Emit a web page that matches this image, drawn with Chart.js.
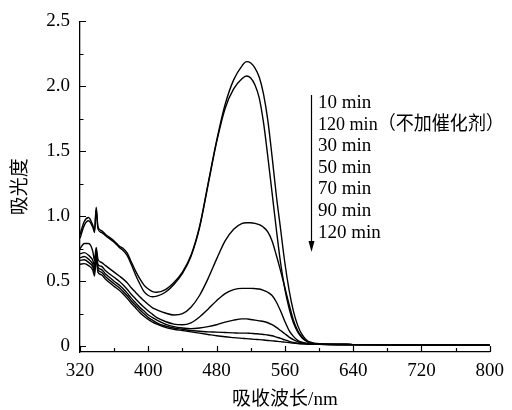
<!DOCTYPE html>
<html><head><meta charset="utf-8">
<script src="https://cdn.jsdelivr.net/npm/chart.js@4/dist/chart.umd.min.js"></script>
<style>html,body{margin:0;padding:0;background:#fff}</style>
</head><body>
<canvas id="c" width="512" height="410"></canvas>
<script>
// ---- data ----
const wavelengths = [320,325,330,335,337,339,341,345,350,360,366,370,375,380,385,390,395,400,405,410,420,430,440,450,460,470,480,490,500,510,515,520,525,530,535,540,545,550,555,560,565,570,575,580,585,590,600,640,700,800];
const seriesNames = ["10 min","120 min（不加催化剂）","30 min","50 min","70 min","90 min","120 min"];
const abs10min = [0.86,0.96,0.99,0.93,0.89,1.07,0.92,0.89,0.86, 0.81,0.77,0.755,0.72,0.65,0.58,0.52,0.47,0.44, 0.42,0.415,0.435,0.49,0.57,0.70,0.92,1.25,1.58,1.86, 2.05,2.16,2.19,2.18,2.14,2.07,1.94,1.74,1.46,1.16, 0.90,0.64,0.43,0.27,0.16,0.09,0.05,0.03,0.018,0.012, 0.01,0.008];
const abs120NoCat = [0.83,0.93,0.965,0.915,0.875,1.05,0.905,0.875,0.85, 0.80,0.76,0.74,0.70,0.63,0.55,0.48,0.42,0.39, 0.38,0.385,0.415,0.475,0.56,0.69,0.91,1.24,1.57,1.83, 1.98,2.06,2.08,2.065,2.01,1.91,1.72,1.46,1.18,0.90, 0.64,0.44,0.29,0.18,0.11,0.065,0.04,0.025,0.016,0.012, 0.01,0.008];
const abs30min = [0.75,0.79,0.79,0.73,0.66,0.76,0.67,0.645,0.62, 0.57,0.54,0.52,0.49,0.45,0.415,0.38,0.35,0.32, 0.295,0.28,0.255,0.24,0.25,0.30,0.39,0.52,0.67,0.81, 0.90,0.945,0.95,0.95,0.945,0.935,0.915,0.88,0.81,0.70, 0.58,0.45,0.32,0.20,0.12,0.07,0.04,0.025,0.016,0.012, 0.01,0.008];
const abs50min = [0.71,0.72,0.70,0.66,0.62,0.74,0.63,0.615,0.58, 0.53,0.50,0.475,0.44,0.40,0.365,0.33,0.30,0.27, 0.245,0.22,0.19,0.17,0.165,0.18,0.225,0.285,0.35,0.405, 0.435,0.445,0.445,0.445,0.443,0.44,0.43,0.415,0.39,0.34, 0.27,0.19,0.12,0.075,0.045,0.03,0.022,0.018,0.015,0.012, 0.01,0.008];
const abs70min = [0.68,0.69,0.67,0.63,0.59,0.72,0.61,0.59,0.555, 0.50,0.47,0.445,0.41,0.37,0.335,0.30,0.27,0.24, 0.22,0.20,0.17,0.15,0.14,0.135,0.14,0.15,0.165,0.185, 0.20,0.21,0.21,0.205,0.20,0.195,0.19,0.18,0.165,0.145, 0.12,0.095,0.07,0.05,0.035,0.027,0.021,0.018,0.015,0.012, 0.01,0.008];
const abs90min = [0.66,0.665,0.645,0.61,0.57,0.70,0.59,0.57,0.535, 0.48,0.45,0.425,0.39,0.35,0.315,0.28,0.25,0.22, 0.20,0.18,0.155,0.14,0.13,0.12,0.115,0.11,0.108,0.105, 0.102,0.10,0.10,0.098,0.096,0.094,0.09,0.086,0.08,0.07, 0.06,0.048,0.037,0.028,0.022,0.019,0.017,0.015,0.014,0.012, 0.01,0.008];
const abs120min = [0.63,0.635,0.62,0.585,0.54,0.68,0.57,0.55,0.515, 0.46,0.43,0.405,0.37,0.33,0.295,0.26,0.23,0.205, 0.185,0.17,0.145,0.13,0.12,0.11,0.10,0.09,0.08,0.072, 0.066,0.06,0.058,0.055,0.052,0.05,0.047,0.044,0.041,0.038, 0.035,0.031,0.027,0.023,0.02,0.018,0.016,0.015,0.014,0.012, 0.01,0.008];
const xMajorTicks = [320,400,480,560,640,720,800];
const xMinorTicks = [360,440,520,600,680,760];
const xTickLabels = ["320","400","480","560","640","720","800"];
const yMajorTicks = [0,0.5,1.0,1.5,2.0,2.5];
const yMinorTicks = [0.25,0.75,1.25,1.75,2.25];
const yTickLabels = ["0","0.5","1.0","1.5","2.0","2.5"];
const xTitle = "吸收波长/nm";
const yTitle = "吸光度";

// ---- chart ----
const FONT_FAMILY = "'Liberation Serif','Noto Sans CJK SC',serif";
const seriesValues = [abs10min, abs120NoCat, abs30min, abs50min, abs70min, abs90min, abs120min];
const datasets = seriesValues.map((arr, i) => ({
  label: seriesNames[i],
  data: arr.map((v, j) => ({x: wavelengths[j], y: v})),
  borderColor: '#000', borderWidth: 1.4, pointRadius: 0,
  cubicInterpolationMode: 'monotone', fill: false
}));

const innerTicks = {
  id: 'innerTicks',
  afterDatasetsDraw(chart) {
    const {ctx, scales: {x, y}, chartArea: a} = chart;
    ctx.save();
    ctx.strokeStyle = '#000'; ctx.lineWidth = 1.2;
    ctx.beginPath();
    const yt = (v, len) => { const p = Math.round(y.getPixelForValue(v)) + 0.5; ctx.moveTo(a.left, p); ctx.lineTo(a.left + len, p); };
    const xt = (v, len) => { const p = Math.round(x.getPixelForValue(v)) + 0.5; ctx.moveTo(p, a.bottom); ctx.lineTo(p, a.bottom - len); };
    yMajorTicks.forEach(v => yt(v, 6));
    yMinorTicks.forEach(v => yt(v, 3.5));
    xMajorTicks.forEach(v => xt(v, 6));
    xMinorTicks.forEach(v => xt(v, 4));
    ctx.stroke();
    ctx.restore();
  }
};

const annotation = {
  id: 'annotation',
  afterDraw(chart) {
    const ctx = chart.ctx;
    ctx.save();
    ctx.fillStyle = '#000'; ctx.strokeStyle = '#000'; ctx.lineWidth = 1.2;
    const ax = 311.5, y0 = 95, y1 = 252;
    ctx.beginPath(); ctx.moveTo(ax, y0); ctx.lineTo(ax, y1 - 8); ctx.stroke();
    ctx.beginPath(); ctx.moveTo(ax - 3, y1 - 11); ctx.lineTo(ax + 3, y1 - 11); ctx.lineTo(ax, y1); ctx.closePath(); ctx.fill();
    ctx.font = '19px ' + FONT_FAMILY;
    ctx.textBaseline = 'middle'; ctx.textAlign = 'left';
    const maxW = chart.width - 318 - 8;
    seriesNames.forEach((s, i) => ctx.fillText(s, 318, 103 + i * 21.6, maxW));
    ctx.restore();
  }
};

new Chart(document.getElementById('c'), {
  type: 'line',
  data: {datasets},
  options: {
    responsive: false, animation: false, devicePixelRatio: 1,
    layout: {padding: {left: 0, right: 17, top: 21, bottom: 0}},
    plugins: {legend: {display: false}, tooltip: {enabled: false}},
    scales: {
      x: {
        type: 'linear', min: 320, max: 800,
        afterBuildTicks: s => { s.ticks = xMajorTicks.map(v => ({value: v})); },
        ticks: {autoSkip: false, maxRotation: 0, color: '#000', padding: 8,
          font: {family: FONT_FAMILY, size: 19},
          callback: (v) => xTickLabels[xMajorTicks.indexOf(v)]},
        grid: {display: false, drawTicks: false},
        border: {display: true, color: '#000', width: 1.3},
        title: {display: true, text: xTitle, color: '#000',
          font: {family: FONT_FAMILY, size: 19, lineHeight: 1}, padding: {top: 0, bottom: 0}},
        afterFit: s => { s.height = 58; }
      },
      y: {
        type: 'linear', min: -0.045, max: 2.5,
        afterBuildTicks: s => { s.ticks = yMajorTicks.map(v => ({value: v})); },
        ticks: {color: '#000', padding: 10,
          font: {family: FONT_FAMILY, size: 19},
          callback: (v) => yTickLabels[yMajorTicks.indexOf(v)]},
        grid: {display: false, drawTicks: false},
        border: {display: true, color: '#000', width: 1.3},
        title: {display: true, text: yTitle, color: '#000',
          font: {family: FONT_FAMILY, size: 19, lineHeight: 1}, padding: {top: 12, bottom: 0}},
        afterFit: s => { s.width = 80; }
      }
    }
  },
  plugins: [innerTicks, annotation]
});
</script>
</body></html>
